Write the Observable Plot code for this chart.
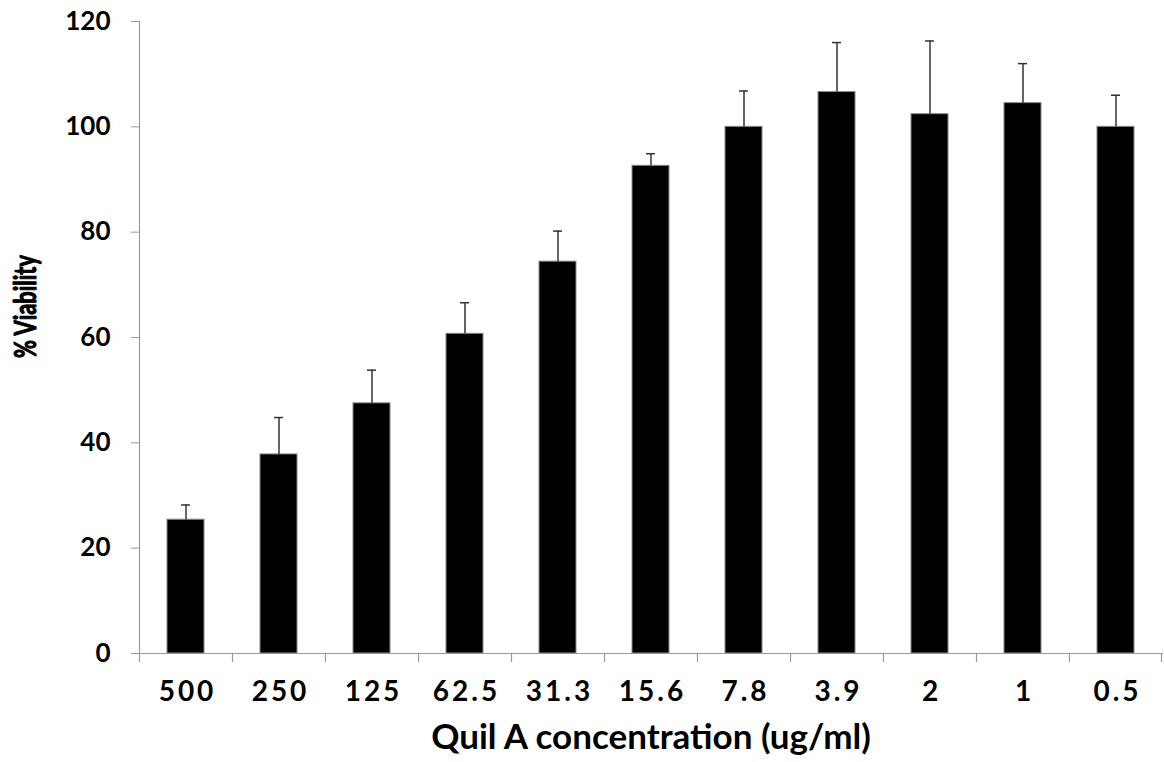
<!DOCTYPE html>
<html>
<head>
<meta charset="utf-8">
<script src="https://cdn.jsdelivr.net/npm/d3@7"></script>
<script src="https://cdn.jsdelivr.net/npm/@observablehq/plot@0.6"></script>
<style>
  html, body { margin: 0; padding: 0; background: #fff; }
  #chart { width: 1164px; height: 762px; }
  .xlab text { letter-spacing: 3px; }
</style>
</head>
<body>
<div id="chart"></div>
<script>
const concentrations = ["500", "250", "125", "62.5", "31.3", "15.6", "7.8", "3.9", "2", "1", "0.5"];
const viability = [25.4, 37.8, 47.5, 60.7, 74.4, 92.6, 100.0, 106.6, 102.4, 104.5, 100.0];
const errors = [2.8, 7.0, 6.3, 5.9, 5.8, 2.3, 6.8, 9.4, 13.9, 7.5, 6.0];
const yTicks = [0, 20, 40, 60, 80, 100, 120];
const xTitle = "Quil A concentration (ug/ml)";
const yTitle = "% Viability";

const data = concentrations.map((c, i) => ({c, v: viability[i], e: errors[i], top: viability[i] + errors[i]}));

const W = 1164, H = 762, ML = 139, MR = 2, MT = 21, MB = 109;
const half = (W - ML - MR) / concentrations.length / 2;
const font = "Lato, 'Open Sans', sans-serif";

const chart = Plot.plot({
  width: W,
  height: H,
  marginLeft: ML,
  marginRight: MR,
  marginTop: MT,
  marginBottom: MB,
  style: {background: "#fff", fontFamily: font, color: "#000", overflow: "visible"},
  x: {domain: concentrations, paddingInner: 0.6, paddingOuter: 0.3},
  y: {domain: [0, 120]},
  marks: [
    Plot.barY(data, {x: "c", y: "v", fill: "#000", stroke: "#888", strokeWidth: 1}),
    Plot.ruleX(data, {x: "c", y1: "v", y2: "top", stroke: "#333", strokeWidth: 1.5}),
    Plot.tickY(data, {x: "c", y: "top", stroke: "#333", strokeWidth: 1.5, insetLeft: 14, insetRight: 14}),
    Plot.frame({anchor: "left", stroke: "#999", strokeWidth: 1.2}),
    Plot.frame({anchor: "bottom", stroke: "#999", strokeWidth: 1.2}),
    Plot.ruleX(concentrations, {x: d => d, y1: 0, y2: 0, insetBottom: -9, dx: -half, stroke: "#999", strokeWidth: 1.2}),
    Plot.ruleX(concentrations.slice(-1), {x: d => d, y1: 0, y2: 0, insetBottom: -9, dx: half - 1, stroke: "#999", strokeWidth: 1.2}),
    Plot.axisY({ticks: yTicks, tickSize: 8, tickPadding: 21, stroke: "#999", fontSize: 26, fontWeight: "bold", label: null}),
    Plot.axisX({tickSize: 0, tickPadding: 28, fontSize: 28, fontWeight: "bold", label: null, className: "xlab", dx: 1.5}),
    Plot.text([xTitle], {frameAnchor: "bottom", lineAnchor: "bottom", dy: 95, fontSize: 35, fontWeight: "bold", fill: "#000"}),
    Plot.text([yTitle], {frameAnchor: "left", textAnchor: "middle", rotate: -90, dx: -113, dy: -31, fontSize: 30, fontWeight: "bold", fill: "#000", stroke: "#000", strokeWidth: 1, className: "ytitle"})
  ]
});
document.getElementById("chart").appendChild(chart);
chart.querySelectorAll(".ytitle text").forEach(t => {
  t.setAttribute("textLength", 103);
  t.setAttribute("lengthAdjust", "spacingAndGlyphs");
});
</script>
</body>
</html>
